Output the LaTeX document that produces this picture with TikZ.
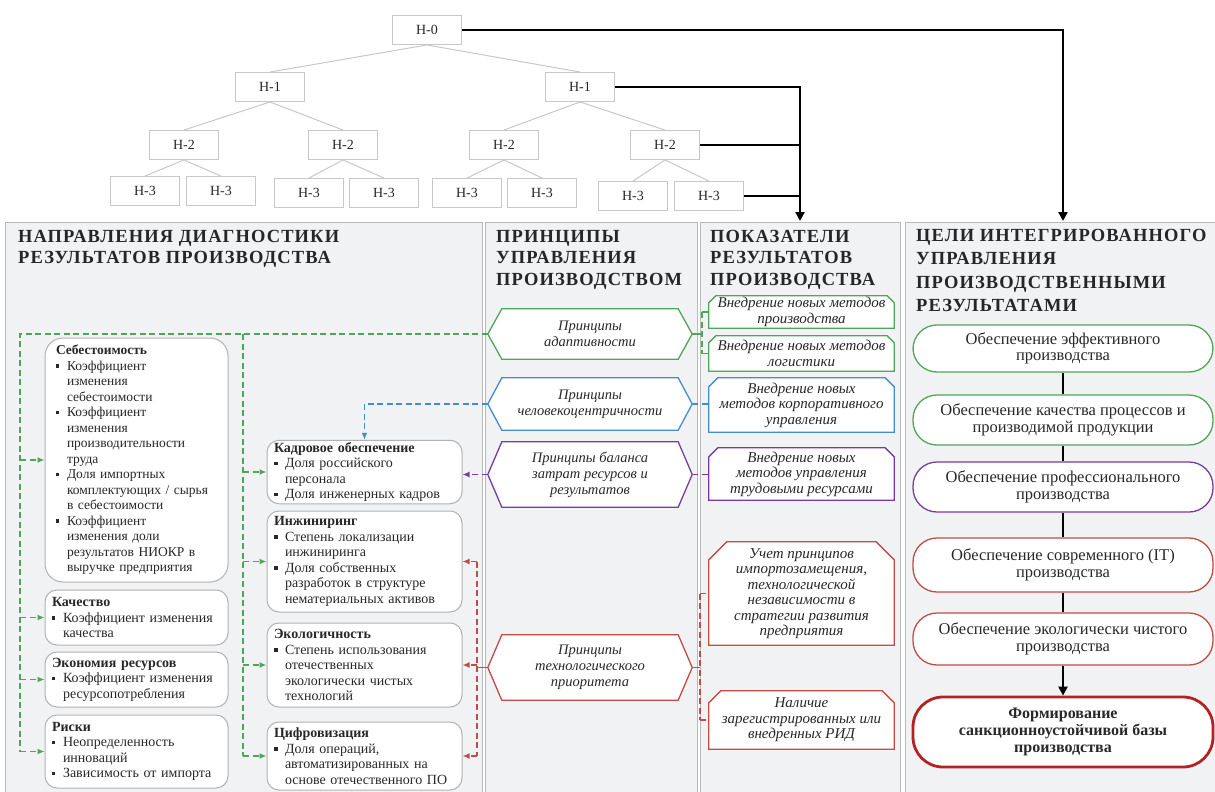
\documentclass[tikz,border=0pt]{standalone}
\usepackage{fontspec}
\setmainfont{Liberation Serif}
\newfontfamily\hfont[LetterSpace=6]{Liberation Serif}
\usetikzlibrary{arrows.meta,backgrounds}
\definecolor{gcol}{RGB}{80,165,90}
\definecolor{bcol}{RGB}{70,140,205}
\definecolor{pcol}{RGB}{120,60,160}
\definecolor{rcol}{RGB}{195,75,70}
\definecolor{dred}{RGB}{180,35,35}
\definecolor{panelfill}{RGB}{241,242,244}
\definecolor{panelline}{RGB}{185,185,185}
\definecolor{tgray}{RGB}{200,200,200}
\definecolor{txt}{RGB}{40,40,40}
\newcommand\bul{\makebox[11pt][l]{\rule[2.5pt]{3.5pt}{3.5pt}}}
\newcommand\bIn{\hspace*{11pt}}
\newcommand\hexshape[2]{\begin{scope}[on background layer]\filldraw[draw=#2,fill=white,line width=1.3pt] (#1.west) -- ([xshift=14pt]#1.north west) -- ([xshift=-14pt]#1.north east) -- (#1.east) -- ([xshift=-14pt]#1.south east) -- ([xshift=14pt]#1.south west) -- cycle;\end{scope}}
\newcommand\chbox[3]{\begin{scope}[on background layer]\filldraw[draw=#2,fill=white,line width=1.3pt] (#1.south west) -- ([yshift=-#3]#1.north west) -- ([xshift=#3]#1.north west) -- ([xshift=-#3]#1.north east) -- ([yshift=-#3]#1.north east) -- (#1.south east) -- cycle;\end{scope}}
\tikzset{
  tnode/.style={draw=tgray,fill=white,line width=0.9pt,minimum width=69pt,minimum height=29pt,inner sep=0pt,font=\fontsize{14}{16}\selectfont,text=txt},
  tline/.style={draw=tgray,line width=1pt},
  thk/.style={line width=2.8pt,black},
  panel/.style={fill=panelfill,draw=panelline,line width=0.9pt},
  head/.style={font=\hfont\bfseries\fontsize{18.5}{21.5}\selectfont,align=left,inner sep=0pt,anchor=north west,text=black!85},
  lbox/.style={draw=gray!60,fill=white,line width=1pt,rounded corners=12pt,align=left,text=txt,font=\fontsize{14}{15.5}\selectfont,inner ysep=2pt},
  hextext/.style={minimum width=204pt,inner sep=0pt,align=center,text=txt,font=\itshape\fontsize{14.5}{16}\selectfont},
  indtext/.style={minimum width=185pt,inner sep=0pt,align=center,text=txt,font=\itshape\fontsize{15}{15.5}\selectfont},
  gnode/.style={rectangle,rounded corners=24pt,fill=white,line width=1.3pt,minimum width=300pt,align=center,text=txt,font=\fontsize{16.5}{16.5}\selectfont},
  gdash/.style={draw=gcol,line width=1.4pt,dash pattern=on 6pt off 3.5pt},
  bdash/.style={draw=bcol,line width=1.4pt,dash pattern=on 6pt off 3.5pt},
  pdash/.style={draw=pcol,line width=1.4pt,dash pattern=on 6pt off 3.5pt},
  rdash/.style={draw=rcol,line width=1.4pt,dash pattern=on 6pt off 3.5pt},
  tip/.style={-{Latex[length=7pt,width=6pt]}}
}
\begin{document}
\begin{tikzpicture}[x=1pt,y=-1pt]
\useasboundingbox (0,0) rectangle (1215,792);
\begin{scope}[on background layer]
\fill[white] (0,0) rectangle (1215,792);
\filldraw[panel] (5,222) rectangle (482,800);
\filldraw[panel] (485,222) rectangle (697,800);
\filldraw[panel] (700,222) rectangle (900,800);
\filldraw[panel] (905,222) rectangle (1220,800);
\end{scope}

% ---------- tree ----------
\node[tnode] (H0) at (427,30) {H-0};
\node[tnode] (H1a) at (270,87) {H-1};
\node[tnode] (H1b) at (580,87) {H-1};
\node[tnode] (H2a) at (184,145) {H-2};
\node[tnode] (H2b) at (343,145) {H-2};
\node[tnode] (H2c) at (504,145) {H-2};
\node[tnode] (H2d) at (665,145) {H-2};
\node[tnode] (H3a) at (145,191) {H-3};
\node[tnode] (H3b) at (221,191) {H-3};
\node[tnode] (H3c) at (309,193) {H-3};
\node[tnode] (H3d) at (384,193) {H-3};
\node[tnode] (H3e) at (467,193) {H-3};
\node[tnode] (H3f) at (542,193) {H-3};
\node[tnode] (H3g) at (633,196) {H-3};
\node[tnode] (H3h) at (709,196) {H-3};
\draw[tline] (H0.south) -- (H1a.north);
\draw[tline] (H0.south) -- (H1b.north);
\draw[tline] (H1a.south) -- (H2a.north);
\draw[tline] (H1a.south) -- (H2b.north);
\draw[tline] (H1b.south) -- (H2c.north);
\draw[tline] (H1b.south) -- (H2d.north);
\draw[tline] (H2a.south) -- (H3a.north);
\draw[tline] (H2a.south) -- (H3b.north);
\draw[tline] (H2b.south) -- (H3c.north);
\draw[tline] (H2b.south) -- (H3d.north);
\draw[tline] (H2c.south) -- (H3e.north);
\draw[tline] (H2c.south) -- (H3f.north);
\draw[tline] (H2d.south) -- (H3g.north);
\draw[tline] (H2d.south) -- (H3h.north);

\coordinate (itop) at (800,221);
\coordinate (gtop) at (1063,221);
\draw[thk,-{Triangle[length=9pt,width=9pt]}] (H0.east) -| (gtop);
\draw[thk,-{Triangle[length=9pt,width=9pt]}] (H1b.east) -| (itop);
\draw[thk] (H2d.east) -- (H2d.east -| itop);
\draw[thk] (H3h.east) -- (H3h.east -| itop);

% ---------- headings ----------
\node[head] (hd1) at (18,230) {НАПРАВЛЕНИЯ ДИАГНОСТИКИ\\РЕЗУЛЬТАТОВ ПРОИЗВОДСТВА};
\node[head] (hd2) at (496,230) {ПРИНЦИПЫ\\УПРАВЛЕНИЯ\\ПРОИЗВОДСТВОМ};
\node[head] (hd3) at (710,230) {ПОКАЗАТЕЛИ\\РЕЗУЛЬТАТОВ\\ПРОИЗВОДСТВА};
\node[head,font=\hfont\bfseries\fontsize{18.5}{23.5}\selectfont] (hd4) at (916,229) {ЦЕЛИ ИНТЕГРИРОВАННОГО\\УПРАВЛЕНИЯ\\ПРОИЗВОДСТВЕННЫМИ\\РЕЗУЛЬТАТАМИ};

% ---------- left boxes ----------
\node[lbox,rounded corners=18pt,minimum width=183pt,minimum height=244pt,text width=161pt,inner xsep=11pt,font=\fontsize{13.5}{15.5}\selectfont] (seb) at (136.5,460)
 {\textbf{Себестоимость}\\
  \bul Коэффициент\\ \bIn изменения\\ \bIn себестоимости\\
  \bul Коэффициент\\ \bIn изменения\\ \bIn производительности\\ \bIn труда\\
  \bul Доля импортных\\ \bIn \mbox{комплектующих / сырья}\\ \bIn в себестоимости\\
  \bul Коэффициент\\ \bIn изменения доли\\ \bIn результатов НИОКР в\\ \bIn выручке предприятия};
\node[lbox,minimum width=183pt,minimum height=55pt,text width=169pt,inner xsep=7pt] (kach) at (136.5,617.5)
 {\textbf{Качество}\\ \bul Коэффициент изменения\\ \bIn качества};
\node[lbox,minimum width=183pt,minimum height=55pt,text width=169pt,inner xsep=7pt] (econ) at (136.5,679.5)
 {\textbf{Экономия ресурсов}\\ \bul Коэффициент изменения\\ \bIn ресурсопотребления};
\node[lbox,minimum width=183pt,minimum height=73pt,text width=169pt,inner xsep=7pt] (risk) at (136.5,751.5)
 {\textbf{Риски}\\ \bul Неопределенность\\ \bIn инноваций\\ \bul Зависимость от импорта};

\node[lbox,minimum width=195pt,minimum height=62pt,text width=181pt,inner xsep=7pt] (kadr) at (364.5,472)
 {\textbf{Кадровое обеспечение}\\ \bul Доля российского\\ \bIn персонала\\ \bul Доля инженерных кадров};
\node[lbox,minimum width=195pt,minimum height=101pt,text width=181pt,inner xsep=7pt] (inzh) at (364.5,561.5)
 {\textbf{Инжиниринг}\\ \bul Степень локализации\\ \bIn инжиниринга\\ \bul Доля собственных\\ \bIn разработок в структуре\\ \bIn нематериальных активов};
\node[lbox,minimum width=195pt,minimum height=84pt,text width=181pt,inner xsep=7pt] (eko) at (364.5,665)
 {\textbf{Экологичность}\\ \bul Степень использования\\ \bIn отечественных\\ \bIn экологически чистых\\ \bIn технологий};
\node[lbox,minimum width=195pt,minimum height=68pt,text width=181pt,inner xsep=7pt] (cif) at (364.5,756)
 {\textbf{Цифровизация}\\ \bul Доля операций,\\ \bIn автоматизированных на\\ \bIn основе отечественного ПО};

% ---------- principles (hexagons) ----------
\node[hextext,minimum height=50pt] (adapt) at (590,334) {Принципы\\адаптивности};
\hexshape{adapt}{gcol}
\node[hextext,minimum height=52pt] (human) at (590,404) {Принципы\\человекоцентричности};
\hexshape{human}{bcol}
\node[hextext,minimum height=65pt] (balance) at (590,474.5) {Принципы баланса\\затрат ресурсов и\\результатов};
\hexshape{balance}{pcol}
\node[hextext,minimum height=65pt] (tech) at (590,667.5) {Принципы\\технологического\\приоритета};
\hexshape{tech}{rcol}

% ---------- indicators ----------
\node[indtext,minimum height=32pt] (ind1) at (801.5,312) {Внедрение новых методов\\производства};
\chbox{ind1}{gcol}{7pt}
\node[indtext,minimum height=35pt] (ind2) at (801.5,353.5) {Внедрение новых методов\\логистики};
\chbox{ind2}{gcol}{7pt}
\node[indtext,minimum height=54pt] (ind3) at (801.5,405) {Внедрение новых\\методов корпоративного\\управления};
\chbox{ind3}{bcol}{9pt}
\node[indtext,minimum height=52pt] (ind4) at (801.5,474) {Внедрение новых\\методов управления\\трудовыми ресурсами};
\chbox{ind4}{pcol}{9pt}
\node[indtext,minimum height=103pt] (ind5) at (801.5,593.5) {Учет принципов\\импортозамещения,\\технологической\\независимости в\\стратегии развития\\предприятия};
\chbox{ind5}{rcol}{18pt}
\node[indtext,minimum height=58pt] (ind6) at (801.5,720) {Наличие\\зарегистрированных или\\внедренных РИД};
\chbox{ind6}{rcol}{12pt}

% ---------- goals ----------
\node[gnode,draw=gcol,minimum height=47pt] (g1) at (1063,348.5) {Обеспечение эффективного\\производства};
\node[gnode,draw=gcol,minimum height=50pt] (g2) at (1063,420) {Обеспечение качества процессов и\\производимой продукции};
\node[gnode,draw=pcol,minimum height=50pt] (g3) at (1063,487) {Обеспечение профессионального\\производства};
\node[gnode,draw=rcol,minimum height=54pt] (g4) at (1063,565) {Обеспечение современного (IT)\\производства};
\node[gnode,draw=rcol,minimum height=52pt] (g5) at (1063,639) {Обеспечение экологически чистого\\производства};
\node[gnode,draw=dred,line width=2.8pt,minimum height=70pt,rounded corners=30pt,font=\bfseries\fontsize{16}{17}\selectfont] (g6) at (1063,732) {Формирование\\санкционноустойчивой базы\\производства};
\draw[thk] (g1.south) -- (g2.north);
\draw[thk] (g2.south) -- (g3.north);
\draw[thk] (g3.south) -- (g4.north);
\draw[thk] (g4.south) -- (g5.north);
\draw[thk,-{Triangle[length=9pt,width=9pt]}] (g5.south) -- (g6.north);

% ---------- green connectors (left) ----------
\coordinate (gL) at (20,334);
\coordinate (gR) at (243,334);
\draw[gdash] (adapt.west) -- (gL) -- (gL |- risk.west);
\draw[gdash] (gR) -- (gR |- cif.west);
\draw[gdash,tip] (gL |- seb.west) -- (seb.west);
\draw[gdash,tip] (gL |- kach.west) -- (kach.west);
\draw[gdash,tip] (gL |- econ.west) -- (econ.west);
\draw[gdash,tip] (gL |- risk.west) -- (risk.west);
\draw[gdash,tip] (gR |- kadr.west) -- (kadr.west);
\draw[gdash,tip] (gR |- inzh.west) -- (inzh.west);
\draw[gdash,tip] (gR |- eko.west) -- (eko.west);
\draw[gdash,tip] (gR |- cif.west) -- (cif.west);

% blue / purple / red (left)
\draw[bdash,tip] (human.west) -| (kadr.north);
\draw[pdash,tip] (balance.west) -- (balance.west -| kadr.east);
\coordinate (rV) at (477,667.5);
\draw[rcol,line width=1.4pt] (tech.west) -- (rV);
\draw[rdash] (rV |- inzh.east) -- (rV |- cif.east);
\draw[rdash,tip] (rV |- inzh.east) -- (inzh.east);
\draw[rdash,tip] (rV |- eko.east) -- (eko.east);
\draw[rdash,tip] (rV |- cif.east) -- (cif.east);

% right side connectors
\coordinate (gB) at (702,334);
\draw[gcol,line width=1.4pt] (adapt.east) -- (gB);
\draw[gdash] (gB |- ind1.west) -- (gB |- ind2.west);
\draw[gdash] (gB |- ind1.west) -- (ind1.west);
\draw[gdash] (gB |- ind2.west) -- (ind2.west);
\draw[bdash] (human.east) -- (human.east -| ind3.west);
\draw[pdash] (balance.east) -- (balance.east -| ind4.west);
\coordinate (rB) at (700,667.5);
\draw[rcol,line width=1.4pt] (tech.east) -- (rB);
\draw[rdash] (rB |- ind5.west) -- (rB |- ind6.west);
\draw[rdash] (rB |- ind5.west) -- (ind5.west);
\draw[rdash] (rB |- ind6.west) -- (ind6.west);
\end{tikzpicture}
\end{document}
